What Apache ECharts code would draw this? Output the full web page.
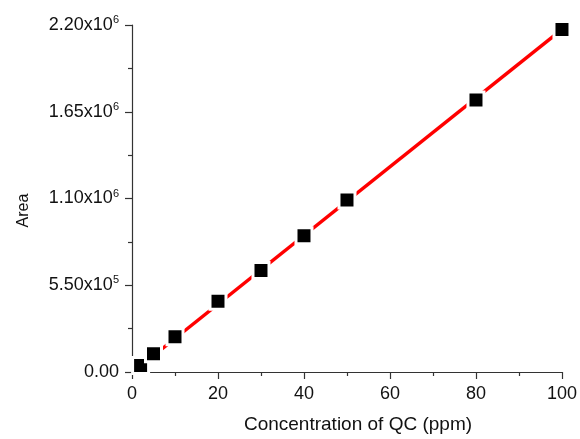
<!DOCTYPE html>
<html>
<head>
<meta charset="utf-8">
<script src="https://cdn.jsdelivr.net/npm/echarts@6/dist/echarts.min.js"></script>
<style>
  html, body { margin: 0; padding: 0; background: #fff; }
  #main { width: 580px; height: 439px; }
</style>
</head>
<body>
<div id="main"></div>
<script>
// 浓度 (ppm) 和 峰面积
const conc = [2, 5, 10, 20, 30, 40, 50, 80, 100]
const area = [41000, 116000, 223000, 449000, 644000, 864000, 1090000, 1725000, 2172000]

// 拟合线两端
const fitX = [2, 100]
const fitY = [38000, 2172000]

const yTicks = [0, 550000, 1100000, 1650000, 2200000]
const yTickLabels = ['0.00', '5.50x10^5', '1.10x10^6', '1.65x10^6', '2.20x10^6']

const axisColor = '#333'
const font = 'Liberation Sans'

const option = {
    animation: false,
    grid: { left: 132, right: 18, top: 25, bottom: 63 },
    xAxis: {
        type: 'value',
        min: 0,
        max: 100,
        interval: 20,
        name: 'Concentration of QC (ppm)',
        nameLocation: 'middle',
        nameGap: 43,
        nameTextStyle: { fontFamily: font, fontSize: 19, color: '#111', padding: [0, 0, 0, 22] },
        axisLine: { show: true, lineStyle: { color: axisColor, width: 1.2 } },
        axisTick: { show: true, inside: false, length: 7, lineStyle: { color: axisColor, width: 1.2 } },
        minorTick: { show: true, splitNumber: 2, length: 4, lineStyle: { color: axisColor, width: 1.2 } },
        axisLabel: { fontFamily: font, fontSize: 18, color: '#111', margin: 13 },
        splitLine: { show: false }
    },
    yAxis: {
        type: 'value',
        min: 0,
        max: 2200000,
        interval: 550000,
        name: 'Area',
        nameLocation: 'middle',
        nameGap: 100,
        nameRotate: 90,
        nameTextStyle: { fontFamily: font, fontSize: 16, color: '#111', padding: [0, 24, 0, 0] },
        axisLine: { show: true, lineStyle: { color: axisColor, width: 1.2 } },
        axisTick: { show: true, inside: false, length: 7, lineStyle: { color: axisColor, width: 1.2 } },
        minorTick: { show: true, splitNumber: 2, length: 4, lineStyle: { color: axisColor, width: 1.2 } },
        axisLabel: {
            margin: 13,
            formatter: function (v) {
                const i = yTicks.indexOf(v)
                if (i < 0) return ''
                const parts = yTickLabels[i].split('^')
                if (parts.length === 1) return '{a|' + parts[0] + '}'
                return '{a|' + parts[0] + '}{s|' + parts[1] + '}'
            },
            rich: {
                a: { fontFamily: font, fontSize: 18, color: '#111' },
                s: { fontFamily: font, fontSize: 11, color: '#111', verticalAlign: 'top', padding: [0, 0, 10, 0] }
            }
        },
        splitLine: { show: false }
    },
    series: [
        {
            type: 'line',
            data: fitX.map((x, i) => [x, fitY[i]]),
            showSymbol: false,
            lineStyle: { color: '#ff0000', width: 3.5 },
            z: 2,
            silent: true
        },
        {
            type: 'scatter',
            data: conc.map((x, i) => [x, area[i]]),
            symbol: 'rect',
            symbolSize: 16,
            itemStyle: { color: '#000', borderColor: '#fff', borderWidth: 3, opacity: 1 },
            z: 3
        }
    ]
}

var myChart = echarts.init(document.getElementById('main'))
myChart.setOption(option)
</script>
</body>
</html>
